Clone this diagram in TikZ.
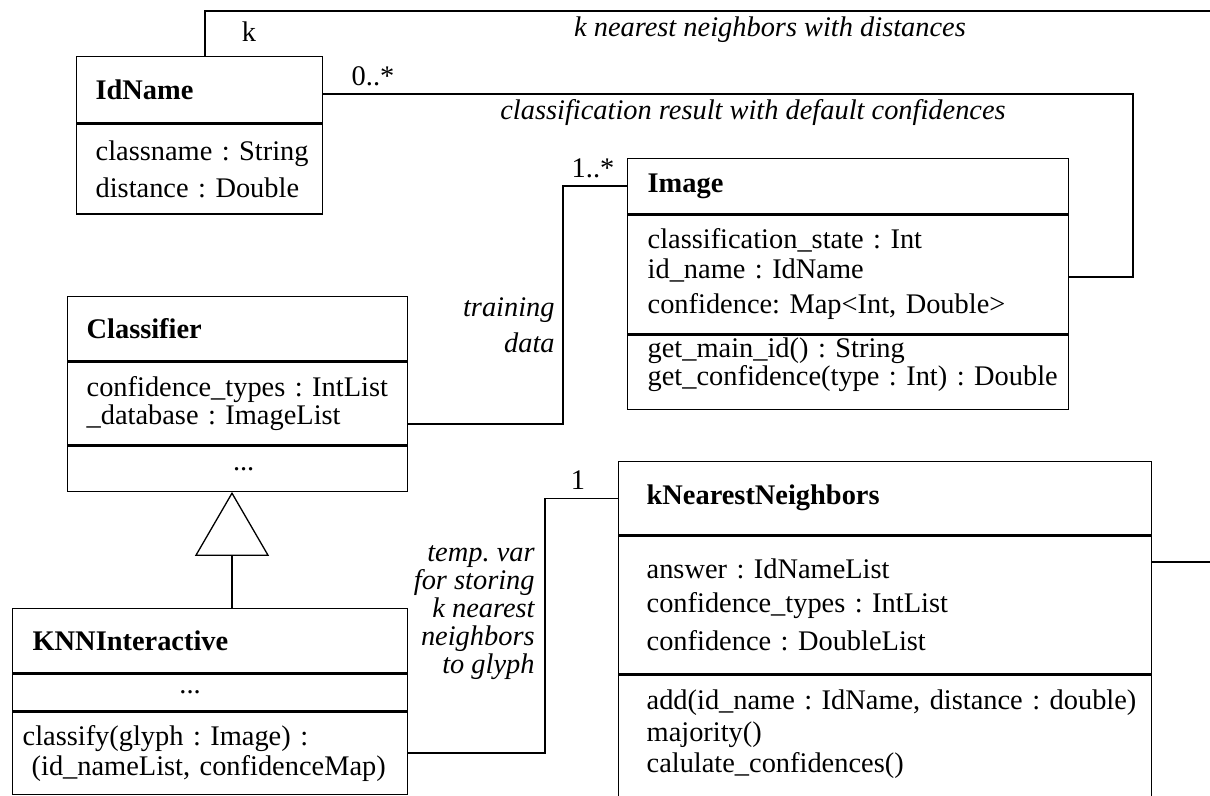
\documentclass[tikz,border=0pt]{standalone}
\usepackage{fontspec}
\setmainfont{Liberation Serif}[BoldFont={Liberation Serif Bold}, ItalicFont={Liberation Serif Italic}]
\usetikzlibrary{positioning,arrows.meta}

\tikzset{
  uml/.style={draw, line width=0.65pt, align=left, inner ysep=0pt, inner xsep=0pt,
    font=\fontsize{14.2}{17}\selectfont},
  umlname/.style={uml, font=\fontsize{14.2}{17}\selectfont\bfseries},
  inset/.style={execute at begin node={\leftskip=#1\relax}},
  leading/.style={font=\fontsize{14.2}{#1}\selectfont},
  conn/.style={draw, line width=0.65pt},
  lbl/.style={inner sep=0pt, font=\fontsize{14.2}{17}\selectfont},
  note/.style={inner sep=0pt, font=\fontsize{14.2}{17}\selectfont\itshape},
}

\begin{document}
\frenchspacing
\begin{tikzpicture}[x=0.5pt, y=-0.5pt]
  \useasboundingbox (0,0) rectangle (1210,796);
  \clip (0,0) rectangle (1210,796);

  % IdName
  \node[umlname, anchor=north west, text width=123pt, inset=9.5pt, minimum height=33pt] (idname) at (76,56) {IdName};
  \node[uml, below=0pt of idname, text width=123pt, inset=9.5pt, minimum height=45pt, leading=18.5pt] (idnameattr)
    {classname : String\\distance : Double};

  % Image
  \node[umlname, anchor=north west, text width=220.5pt, inset=10pt, minimum height=27.5pt] (image) at (627,158) {Image};
  \node[uml, below=0pt of image, text width=220.5pt, inset=10pt, minimum height=59.5pt, leading=15pt] (imageattr)
    {classification\_state : Int\\id\_name : IdName\\[2.5pt]confidence: Map<Int, Double>};
  \node[uml, below=0pt of imageattr, text width=220.5pt, inset=10pt, minimum height=37pt, leading=14.5pt] (imageops)
    {get\_main\_id() : String\\[-0.5pt]get\_confidence(type : Int) : Double\\[-4pt]\mbox{}};

  % Classifier
  \node[umlname, anchor=north west, text width=170pt, inset=9.5pt, minimum height=32pt] (classifier) at (67,296) {Classifier};
  \node[uml, below=0pt of classifier, text width=170pt, inset=9.5pt, minimum height=41.5pt, leading=14pt] (classifierattr)
    {confidence\_types : IntList\\\_database : ImageList};
  \node[uml, below=0pt of classifierattr, text width=170pt, minimum height=22.5pt, align=center] (classifierops) {\hspace*{6pt}...};

  % KNNInteractive
  \node[umlname, anchor=north west, text width=197.5pt, inset=10pt, minimum height=32pt] (knnint) at (12,608) {KNNInteractive};
  \node[uml, below=0pt of knnint, text width=197.5pt, minimum height=18.5pt, align=center] (knnintattr) {\hspace*{-20pt}...};
  \node[uml, below=0pt of knnintattr, text width=197.5pt, inset=5pt, minimum height=41pt, leading=15pt] (knnintops)
    {classify(glyph : Image) :\\\hspace*{4.5pt}(id\_nameList, confidenceMap)};

  % kNearestNeighbors (runs off the bottom)
  \node[umlname, anchor=north west, text width=266.5pt, inset=14pt, minimum height=36.5pt] (knn) at (618,461) {kNearestNeighbors};
  \node[uml, below=0pt of knn, text width=266.5pt, inset=14pt, minimum height=69pt, leading=17pt] (knnattr)
    {answer : IdNameList\\confidence\_types : IntList\\[2pt]confidence : DoubleList};
  \node[uml, below=0pt of knnattr, text width=266.5pt, inset=14pt, minimum height=80pt, leading=15.75pt] (knnops)
    {add(id\_name : IdName, distance : double)\\majority()\\calulate\_confidences()\\[8pt]\mbox{}};

  % associations
  \coordinate (kbend) at (205,11);
  \coordinate (kright) at (1260,562);
  \draw[conn] (idname.north -| kbend) -- (kbend) -| (kright) -- (kright -| knnattr.east);
  \node[lbl] (kmult) at (249,32) {k};
  \node[note] (knote) at (770,30) {k nearest neighbors with distances};

  \coordinate (cbend) at (1133,94);
  \coordinate (cdown) at (1133,277);
  \draw[conn] (idname.east |- cbend) -- (cbend) -- (cdown) -- (cdown -| imageattr.east);
  \node[lbl] (cmult) at (373,76) {0..*};
  \node[note] (cnote) at (753,113) {classification result with default confidences};

  \coordinate (tbend) at (563,424);
  \draw[conn] (image.west) -| (tbend) -- (tbend -| classifierattr.east);
  \node[lbl] (imult) at (593,168) {1..*};
  \node[note, align=right, anchor=east, font=\fontsize{14.2}{18}\selectfont\itshape] (tnote) at (555,325) {training\\data};

  \coordinate (vbend) at (545,753);
  \draw[conn] (knn.west) -| (vbend) -- (vbend -| knnintops.east);
  \node[lbl] (nmult) at (578,480) {1};
  \node[note, align=right, anchor=east, font=\fontsize{14.2}{14}\selectfont\itshape] (vnote) at (535,613)
    {temp. var\\for storing\\k nearest\\neighbors\\to glyph};

  % generalization
  \coordinate (inh) at (232,553);
  \draw[conn, -{Triangle[open, length=32pt, width=37pt]}] (knnint.north -| inh) -- (classifierops.south -| inh);
\end{tikzpicture}
\end{document}
